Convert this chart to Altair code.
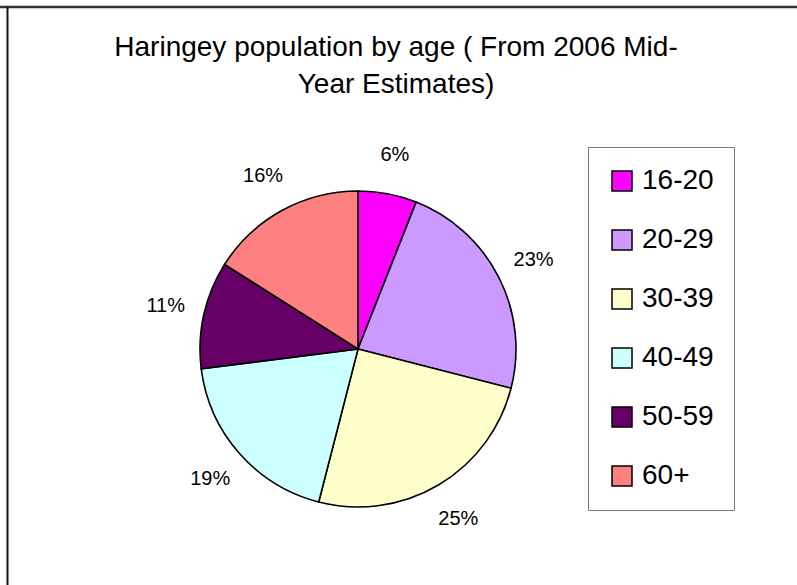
import altair as alt
import pandas as pd

# ---- data ----
age_groups = ["16-20", "20-29", "30-39", "40-49", "50-59", "60+"]
shares = [6, 23, 25, 19, 11, 16]
labels = ["6%", "23%", "25%", "19%", "11%", "16%"]
colors = ["#FF00FF", "#CC99FF", "#FFFFCC", "#CCFFFF", "#660066", "#FF8080"]
title_lines = ["Haringey population by age ( From 2006 Mid-", "Year Estimates)"]

df = pd.DataFrame({
    "age": age_groups,
    "share": shares,
    "label": labels,
    "idx": list(range(len(age_groups))),
})

W, H = 797, 585
CX, CY = 358, 349
FONT = "Liberation Sans"

theta = alt.Theta("share:Q", stack=True)
order = alt.Order("idx:Q", sort="ascending")

pie = alt.Chart(df).mark_arc(
    x=CX, y=CY, outerRadius=158, stroke="black", strokeWidth=1.6
).encode(
    theta=theta,
    order=order,
    color=alt.Color(
        "age:N",
        scale=alt.Scale(domain=age_groups, range=colors),
        sort=age_groups,
        legend=alt.Legend(
            title=None,
            orient="none",
            legendX=588,
            legendY=147,
            direction="vertical",
            strokeColor="#777777",
            fillColor="white",
            padding=20,
            symbolType="square",
            symbolSize=400,
            symbolStrokeColor="black",
            symbolStrokeWidth=1.5,
            symbolOpacity=1,
            labelFont=FONT,
            labelFontSize=28,
            labelColor="black",
            labelOffset=6,
            rowPadding=31,
        ),
    ),
)

pct = alt.Chart(df).mark_text(
    x=CX, y=CY, radius=197, font=FONT, fontSize=20, color="black",
    align="center", baseline="middle"
).encode(
    theta=theta,
    order=order,
    text="label:N",
)

title_df = pd.DataFrame({"line": title_lines, "row": [0, 1]})
title = alt.Chart(title_df).mark_text(
    font=FONT, fontSize=28, color="black", align="center", baseline="alphabetic"
).encode(
    x=alt.value(396),
    y=alt.Y("row:Q", scale=alt.Scale(domain=[0, 1], range=[56, 93]), axis=None),
    text="line:N",
)

frame_df = pd.DataFrame({"k": [0]})
top_rule = alt.Chart(frame_df).mark_rule(color="#333333", strokeWidth=2.5).encode(
    x=alt.value(0), x2=alt.value(W), y=alt.value(7)
)
left_rule = alt.Chart(frame_df).mark_rule(color="#111111", strokeWidth=2).encode(
    x=alt.value(7.5), y=alt.value(7), y2=alt.value(H)
)

chart = alt.layer(pie, pct, title, top_rule, left_rule).resolve_scale(
    theta="shared", y="independent"
).properties(
    width=W, height=H, padding=0, autosize=alt.AutoSizeParams(type="none"),
    background="white",
).configure_view(stroke=None)

chart.save("out.html", embed_options={"renderer": "svg", "actions": False})
